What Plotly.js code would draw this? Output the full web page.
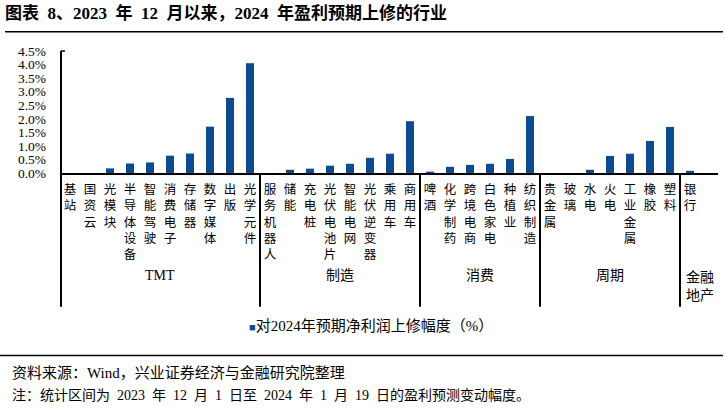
<!DOCTYPE html>
<html>
<head>
<meta charset="utf-8">
<script src="https://cdn.plot.ly/plotly-3.0.1.min.js"></script>
<style>html,body{margin:0;padding:0;background:#fff}#chart{width:725px;height:410px}</style>
</head>
<body>
<div id="chart"></div>
<script>
// ---- data ----
const categories = [
  "基站","国资云","光模块","半导体设备","智能驾驶","消费电子","存储器","数字媒体","出版","光学元件",
  "服务机器人","储能","充电桩","光伏电池片","智能电网","光伏逆变器","乘用车","商用车",
  "啤酒","化学制药","跨境电商","白色家电","种植业","纺织制造",
  "贵金属","玻璃","水电","火电","工业金属","橡胶","塑料",
  "银行"
];
const values = [
  0.00,0.00,0.17,0.35,0.39,0.64,0.72,1.71,2.77,4.05,
  0.00,0.12,0.16,0.27,0.34,0.56,0.71,1.91,
  0.05,0.23,0.30,0.34,0.52,2.10,
  0.00,0.00,0.12,0.63,0.71,1.18,1.70,
  0.08
];
const groupNames = ["TMT","制造","消费","周期","金融<br>地产"];
const groupSizes = [10,8,6,7,1];
const yTicks = [0,0.5,1,1.5,2,2.5,3,3.5,4,4.5];
const yTickLabels = ["0.0%","0.5%","1.0%","1.5%","2.0%","2.5%","3.0%","3.5%","4.0%","4.5%"];
const seriesName = "对2024年预期净利润上修幅度（%）";
const titleText = "图表 8、2023 年 12 月以来，2024 年盈利预期上修的行业";
const sourceText = "资料来源：Wind，兴业证券经济与金融研究院整理";
const noteText = "注：统计区间为 2023 年 12 月 1 日至 2024 年 1 月 19 日的盈利预测变动幅度。";

// ---- layout helpers ----
const W = 725, H = 410;
const mL = 60, mR = 7, mT = 50.5, mB = 236.7;
const pw = W - mL - mR, ph = H - mT - mB;
const baseY = mT + ph;
const py = (pix) => (baseY - pix) / ph;       // pixel y -> paper y
const px = (pix) => (pix - mL) / pw;          // pixel x -> paper x
const wide = (s) => s.replace(/ /g, "\u2002");

const serif = "Liberation Serif, Noto Sans CJK SC, serif";
const cjk = "Liberation Serif, Noto Sans CJK SC, sans-serif";
const blue = "#0a4b91";

const ticktext = categories.map(c => c.split("").join("<br>"));

const shapes = [];
const annotations = [];
// y axis line extended below
shapes.push({type:"line", xref:"paper", yref:"paper", x0:0.0015, x1:0.0015, y0:1, y1:py(308), line:{color:"#000", width:2}});
// top tick mark
shapes.push({type:"line", xref:"paper", yref:"paper", x0:0.0015, x1:px(65), y0:1, y1:1, line:{color:"#000", width:1.5}});
// group separators and labels
let start = 0;
groupSizes.forEach((n, i) => {
  const end = start + n;
  const last = i === groupSizes.length - 1;
  if (!last) {
    shapes.push({type:"line", xref:"x", yref:"paper", x0:end - 0.5, x1:end - 0.5, y0:0, y1:py(308), line:{color:"#000", width:2}});
  }
  const center = (start + end - 1) / 2 + (last ? 0.5 : 0);
  annotations.push({xref:"x", yref:"paper", x:center, y:py(last ? 288 : 276),
    text:groupNames[i], showarrow:false, xanchor:"center", yanchor:"middle",
    font:{family:cjk, size:14, color:"#000"}});
  start = end;
});
// title underline and bottom rule
shapes.push({type:"line", xref:"paper", yref:"paper", x0:px(5), x1:px(723), y0:py(31), y1:py(31), line:{color:"#000", width:1.5}});
shapes.push({type:"line", xref:"paper", yref:"paper", x0:px(0), x1:px(723), y0:py(357), y1:py(357), line:{color:"#000", width:1.5}});
// legend (series name)
annotations.push({xref:"paper", yref:"paper", x:px(247), y:py(327), xanchor:"left", yanchor:"middle", showarrow:false,
  text:'<span style="color:' + blue + ';font-size:11px">■</span>' + seriesName,
  font:{family:cjk, size:15, color:"#000"}});
// source & note
annotations.push({xref:"paper", yref:"paper", x:px(10), y:py(374), text:sourceText, showarrow:false, xanchor:"left", yanchor:"middle", font:{family:cjk, size:15, color:"#000"}});
annotations.push({xref:"paper", yref:"paper", x:px(10), y:py(397), text:wide(noteText), showarrow:false, xanchor:"left", yanchor:"middle", font:{family:cjk, size:14, color:"#000"}});

const trace = {
  type:"bar", x:categories, y:values, name:seriesName,
  marker:{color:blue}, showlegend:false, hoverinfo:"x+y"
};

const layout = {
  width:W, height:H,
  margin:{l:mL, r:mR, t:mT, b:mB, pad:0},
  paper_bgcolor:"#fff", plot_bgcolor:"#fff",
  showlegend:false,
  title:{text:wide(titleText), x:5/W, xanchor:"left", xref:"container", y:1-13/H, yref:"container", yanchor:"middle",
    font:{family:serif, size:17, weight:"bold", color:"#000"}},
  bargap:0.6,
  xaxis:{type:"category", range:[-0.5, 32.4], tickvals:categories, ticktext:ticktext,
    showline:true, linecolor:"#000", linewidth:2, ticks:"", showgrid:false, zeroline:false,
    tickangle:0, tickfont:{family:cjk, size:12.5, color:"#000"}, automargin:false, ticklabelstandoff:4},
  yaxis:{range:[0,4.5], tickvals:yTicks, ticktext:yTickLabels, showline:false,
    ticks:"", showgrid:false, zeroline:false, tickfont:{family:serif, size:13.5, color:"#000"}, automargin:false, ticklabelstandoff:13},
  shapes:shapes, annotations:annotations
};

Plotly.newPlot("chart", [trace], layout, {displayModeBar:false, staticPlot:true});
</script>
</body>
</html>
